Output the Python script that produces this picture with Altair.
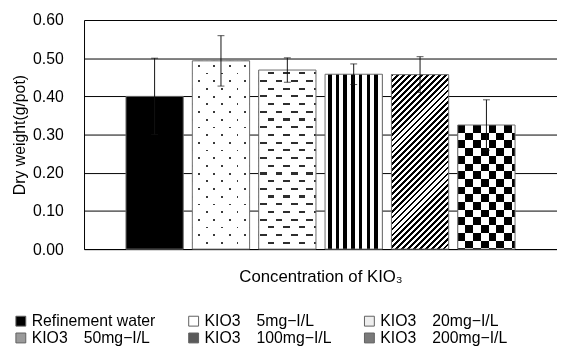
import altair as alt
import pandas as pd

# ---------------- data ----------------
SERIES = [
    "Refinement water",
    "KIO3\u30005mg\u2212I/L",
    "KIO3\u300020mg\u2212I/L",
    "KIO3\u300050mg\u2212I/L",
    "KIO3\u3000100mg\u2212I/L",
    "KIO3\u3000200mg\u2212I/L",
]
MEANS = [0.400, 0.493, 0.469, 0.458, 0.457, 0.325]
ERRORS = [0.100, 0.066, 0.032, 0.027, 0.047, 0.066]
Y_TICKS = [0.0, 0.1, 0.2, 0.3, 0.4, 0.5, 0.6]
LEGEND_SWATCH = ["#000000", "#ffffff", "#eeeeee", "#9a9a9a", "#5a5a5a", "#7a7a7a"]

df = pd.DataFrame({"series": SERIES, "mean": MEANS, "err": ERRORS})
df["lo"] = df["mean"] - df["err"]
df["hi"] = df["mean"] + df["err"]

# ---------------- layout / style ----------------
W, H = 479, 232
Y_MAX = 0.6
PI, PO = 0.137, 0.632
STEP = W / (len(SERIES) - PI + 2 * PO)
BAND = STEP * (1 - PI)
FONT = "Liberation Sans"
BK, WH = "#000000", "#ffffff"


def bar_h(v):
    return v / Y_MAX * H


def stripe_stops(length, period, on_len, on, off, phase=0.0):
    segs = []
    x = (phase % period) - period
    while x < length:
        segs.append((x, x + on_len))
        x += period

    def color_at(p):
        for a, b in segs:
            if a <= p < b:
                return on
        return off

    pts = sorted(set(min(max(v, 0.0), length) for ab in segs for v in ab))
    prev = color_at(0.0)
    stops = [(0.0, prev)]
    for p in pts:
        if p <= 0 or p >= length:
            continue
        c = color_at(p)
        if c != prev:
            stops.append((p / length, prev))
            stops.append((p / length, c))
            prev = c
    stops.append((1.0, prev))
    return [alt.GradientStop(color=c, offset=round(o, 5)) for o, c in stops]


def horiz_grad(length, period, on_len, on, off, phase=0.0):
    # stripes running horizontally (gradient top -> bottom)
    return alt.LinearGradient(gradient="linear", x1=0, y1=0, x2=0, y2=1,
                              stops=stripe_stops(length, period, on_len, on, off, phase))


def vert_grad(length, period, on_len, on, off, phase=0.0):
    # stripes running vertically (gradient left -> right)
    return alt.LinearGradient(gradient="linear", x1=0, y1=0, x2=1, y2=0,
                              stops=stripe_stops(length, period, on_len, on, off, phase))


def diag_grad(w, h, period, on_len, on, off, phase=0.0):
    # 45 degree "/" stripes; period measured horizontally
    k = (w + h) / (w * w + h * h)
    return alt.LinearGradient(gradient="linear", x1=0, y1=0, x2=round(w * k, 5), y2=round(h * k, 5),
                              stops=stripe_stops(w + h, period, on_len, on, off, phase))


P = 7.8  # pattern cell

x_enc = alt.X("series:N", sort=SERIES,
              scale=alt.Scale(domain=SERIES, paddingInner=PI, paddingOuter=PO),
              axis=alt.Axis(labels=False, ticks=False, domainColor="black", domainWidth=1,
                            title="Concentration of KIO\u2083", titleFont=FONT, titleFontSize=17,
                            titleFontWeight="normal", titleColor="black", titlePadding=20))
y_axis = alt.Axis(values=Y_TICKS, format=".2f", ticks=False, labelPadding=21,
                  labelFont=FONT, labelFontSize=16, labelColor="black",
                  grid=True, gridColor="black", gridWidth=1, gridOpacity=1,
                  domainColor="black", title="Dry weight(g/pot)", titleFont=FONT,
                  titleFontSize=16, titleFontWeight="normal", titleColor="black", titlePadding=5)
y_scale = alt.Scale(domain=[0, Y_MAX], nice=False)


def bar_layer(name, **mark):
    return alt.Chart(df).transform_filter(alt.datum.series == name).mark_bar(strokeWidth=0, **mark).encode(
        x=x_enc, y=alt.Y("mean:Q", scale=y_scale, axis=y_axis))


def checker(name, h, col_phase, row_phase):
    # checker board with cells P x P: vertical stripes XOR horizontal stripes
    return [
        bar_layer(name, fill=vert_grad(BAND, 2 * P, P, BK, WH, col_phase)),
        bar_layer(name, fill=horiz_grad(h, 2 * P, P, BK, WH, row_phase), blend="difference"),
    ]


h = [bar_h(v) for v in MEANS]

layers = []
# 1 solid black
layers.append(bar_layer(SERIES[0], fill="black"))
# 2 staggered dots: checker base, keep only thin rows and thin columns
DOT_X, DOT_Y, DOT = 6.7, 5.0, 1.8
layers += checker(SERIES[1], h[1], DOT_X - P / 2, DOT_Y - P / 2)
layers.append(bar_layer(SERIES[1], fill=horiz_grad(h[1], P, DOT, "#3a3a3a", WH, DOT_Y - DOT / 2), blend="lighten"))
layers.append(bar_layer(SERIES[1], fill=vert_grad(BAND, P, DOT, BK, WH, DOT_X - DOT / 2), blend="lighten"))
# 3 staggered dashes: checker base, keep thin rows and dash length
DASH_X, DASH_Y, DASH_T, DASH_L = 9.3, 3.3, 2.2, 6.6
layers += checker(SERIES[2], h[2], DASH_X, DASH_Y - P / 2)
layers.append(bar_layer(SERIES[2], fill=horiz_grad(h[2], P, DASH_T, "#2e2e2e", WH, DASH_Y - DASH_T / 2), blend="lighten"))
layers.append(bar_layer(SERIES[2], fill=vert_grad(BAND, P, DASH_L, BK, WH, DASH_X), blend="lighten"))
# 4 vertical stripes
layers.append(bar_layer(SERIES[3], fill=vert_grad(BAND, P, 3.6, BK, WH, 3.0)))
# 5 diagonal stripes
layers.append(bar_layer(SERIES[4], fill=diag_grad(BAND, h[4], 6.0, 2.8, BK, WH, 0.0)))
# 6 checker board
layers += checker(SERIES[5], h[5], 0.0, 0.0)

# outlines
outline = alt.Chart(df).mark_bar(fillOpacity=0, stroke="#6e6e6e", strokeWidth=1).encode(
    x=x_enc, y=alt.Y("mean:Q", scale=y_scale, axis=y_axis))

# legend carrier (zero height bars)
legend_layer = alt.Chart(df).mark_bar(strokeWidth=0).encode(
    x=x_enc,
    y=alt.Y("zero:Q", scale=y_scale, axis=y_axis),
    color=alt.Color("series:N", sort=SERIES,
                    scale=alt.Scale(domain=SERIES, range=LEGEND_SWATCH),
                    legend=alt.Legend(orient="none", legendX=-72, legendY=297, columns=3,
                                      direction="horizontal", title=None, symbolType="square",
                                      symbolSize=100, symbolStrokeColor="#606060",
                                      symbolStrokeWidth=1, labelFont=FONT, labelFontSize=16,
                                      labelColor="black", labelOffset=3, labelLimit=300,
                                      columnPadding=30, rowPadding=1)),
).transform_calculate(zero="0")

err_rule = alt.Chart(df).mark_rule(color="#111111", strokeWidth=1).encode(
    x=x_enc, y=alt.Y("lo:Q", scale=y_scale, axis=y_axis), y2="hi:Q")
cap_hi = alt.Chart(df).mark_tick(color="#111111", thickness=1, size=7).encode(
    x=x_enc, y=alt.Y("hi:Q", scale=y_scale, axis=y_axis))
cap_lo = alt.Chart(df).mark_tick(color="#111111", thickness=1, size=7).encode(
    x=x_enc, y=alt.Y("lo:Q", scale=y_scale, axis=y_axis))

chart = alt.layer(*layers, outline, legend_layer, err_rule, cap_hi, cap_lo).properties(
    width=W, height=H,
    autosize=alt.AutoSizeParams(type="none"),
    padding={"left": 77, "top": 10, "right": 0, "bottom": 99},
).configure_view(stroke="black", strokeWidth=1).configure(background="white")

chart.save("out.html", embed_options={"renderer": "svg", "actions": False})
